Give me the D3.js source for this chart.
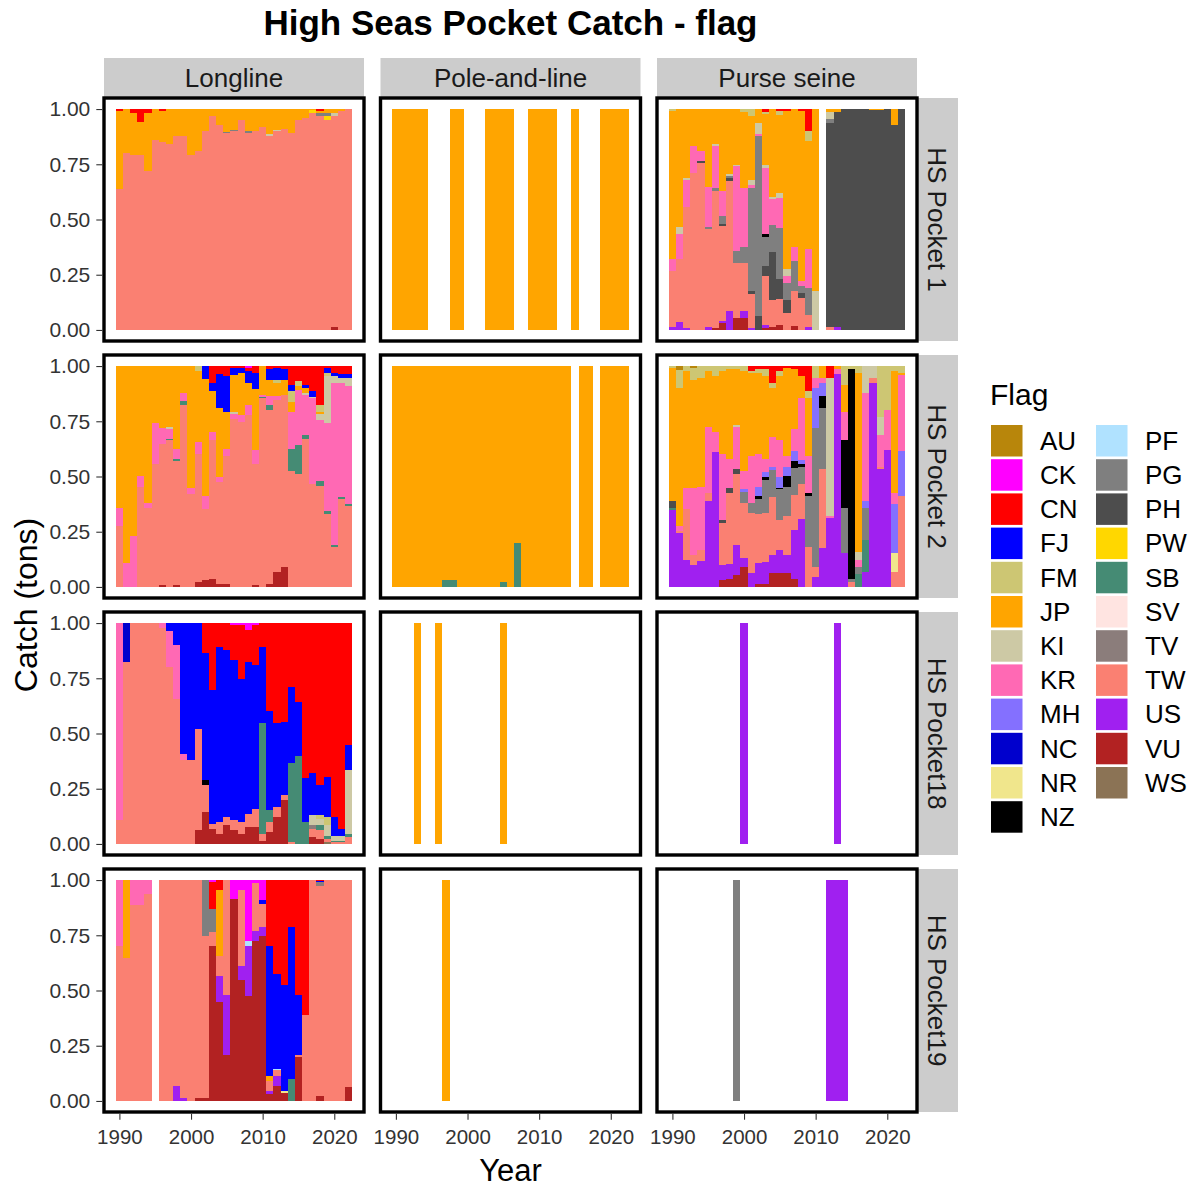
<!DOCTYPE html>
<html><head><meta charset="utf-8">
<script src="https://cdn.jsdelivr.net/npm/d3@7"></script>
<style>
body{margin:0;background:#fff;}
text{font-family:"Liberation Sans",Arial,Helvetica,sans-serif;}
</style>
</head><body>
<svg id="chart" width="1197" height="1187"></svg>
<script>
// ---------------- data ----------------
const years = [1990,1991,1992,1993,1994,1995,1996,1997,1998,1999,2000,2001,2002,2003,2004,2005,2006,2007,2008,2009,2010,2011,2012,2013,2014,2015,2016,2017,2018,2019,2020,2021,2022];
const flags = ["AU","CK","CN","FJ","FM","JP","KI","KR","MH","NC","NR","NZ","PF","PG","PH","PW","SB","SV","TV","TW","US","VU","WS"];
const flagColors = ["#B8860B","#FF00FF","#FF0000","#0000FF","#CDC673","#FFA500","#CDC9A5","#FF69B4","#8470FF","#0000CD","#F0E68C","#000000","#B0E2FF","#7F7F7F","#4D4D4D","#FFD700","#458B74","#FFE4E1","#8B7D7B","#FA8072","#A020F0","#B22222","#8B7355"];
const gears = ["Longline","Pole-and-line","Purse seine"];
const pockets = ["HS Pocket 1","HS Pocket 2","HS Pocket18","HS Pocket19"];
const yTicks = [0,0.25,0.5,0.75,1];
const xTicks = [1990,2000,2010,2020];

const longlineP1 = [
[1990,{CN:.01,JP:.35,TW:.64}],[1991,{JP:.20,TW:.80}],[1992,{CN:.02,JP:.19,TW:.79}],[1993,{CN:.06,JP:.15,TW:.79}],
[1994,{CN:.02,JP:.26,TW:.72}],[1995,{JP:.14,TW:.86}],[1996,{CN:.01,JP:.14,TW:.85}],[1997,{JP:.16,TW:.84}],
[1998,{JP:.12,TW:.88}],[1999,{JP:.12,TW:.88}],[2000,{JP:.21,TW:.79}],[2001,{JP:.19,TW:.81}],
[2002,{JP:.10,TW:.90}],[2003,{JP:.03,TW:.97}],[2004,{JP:.07,TW:.93}],[2005,{JP:.105,PG:.005,TW:.89}],
[2006,{JP:.095,PG:.005,TW:.90}],[2007,{JP:.05,TW:.95}],[2008,{JP:.10,PG:.01,TW:.89}],[2009,{JP:.10,TW:.90}],
[2010,{JP:.08,TW:.92}],[2011,{JP:.115,KI:.005,TW:.88}],[2012,{JP:.095,KI:.005,TW:.90}],[2013,{JP:.09,TW:.91}],
[2014,{JP:.11,TW:.89}],[2015,{JP:.05,TW:.95}],[2016,{JP:.04,TW:.96}],[2017,{JP:.005,PW:.015,TW:.98}],
[2018,{CN:.01,JP:.01,PG:.01,TW:.97}],[2019,{JP:.02,PG:.01,PW:.02,TW:.95}],[2020,{JP:.02,KI:.01,TW:.955,VU:.015}],
[2021,{JP:.01,TW:.99}],[2022,{TW:1}]
];

const poleP1 = [
[1990,{JP:1}],[1991,{JP:1}],[1992,{JP:1}],[1993,{JP:1}],[1994,{JP:1}],[1998,{JP:1}],[1999,{JP:1}],
[2003,{JP:1}],[2004,{JP:1}],[2005,{JP:1}],[2006,{JP:1}],[2009,{JP:1}],[2010,{JP:1}],[2011,{JP:1}],[2012,{JP:1}],
[2015,{JP:1}],[2019,{JP:1}],[2020,{JP:1}],[2021,{JP:1}],[2022,{JP:1}]
];

const purseP1 = [
[1990,{FM:.008,JP:.672,KR:.054,TW:.252,US:.015}],
[1991,{KI:.03,JP:.534,KR:.114,TW:.283,US:.038}],
[1992,{KI:.008,JP:.313,KR:.122,TW:.549,US:.008}],
[1993,{JP:.168,KR:.122,TW:.71}],
[1994,{JP:.191,KR:.046,PH:.008,TW:.755}],
[1995,{JP:.351,KR:.183,PG:.008,TW:.443,US:.015}],
[1996,{JP:.16,KI:.008,KR:.19,PG:.015,TW:.619,VU:.008}],
[1997,{JP:.374,KR:.115,PG:.038,PH:.008,TW:.435,US:.01,VU:.03}],
[1998,{KI:.008,JP:.294,PG:.01,PH:.012,TW:.592,US:.084}],
[1999,{JP:.252,KI:.008,KR:.382,PG:.053,TW:.252,VU:.053}],
[2000,{FM:.015,JP:.344,KR:.267,PG:.069,TW:.221,US:.031,VU:.053}],
[2001,{FM:.03,JP:.29,KI:.023,KR:.015,PG:.466,PH:.015,TW:.153,US:.008}],
[2002,{JP:.061,KI:.053,KR:.008,PG:.817,PH:.061}],
[2003,{CN:.015,FM:.008,JP:.229,KI:.015,KR:.298,NZ:.015,PG:.13,PH:.046,TW:.221,US:.015,VU:.008}],
[2004,{JP:.397,KI:.008,KR:.122,PG:.122,PH:.214,TW:.122,VU:.015}],
[2005,{CN:.008,FM:.02,JP:.351,KI:.023,KR:.137,PG:.229,PH:.092,TW:.115,VU:.023}],
[2006,{CN:.008,JP:.718,KI:.031,KR:.031,PG:.076,PH:.061,TW:.075}],
[2007,{JP:.626,KR:.061,PG:.137,TW:.16,VU:.016}],
[2008,{CN:.008,JP:.771,KR:.023,PG:.031,PH:.023,TW:.144}],
[2009,{CN:.099,FM:.046,JP:.489,KR:.176,PG:.122,TW:.053,US:.015}],
[2010,{JP:.824,KI:.176}],
[2012,{JP:.015,KI:.03,PG:.02,PH:.92,TW:.015}],
[2013,{JP:.015,PH:.97,US:.015}],
[2014,{PH:1}],[2015,{PH:1}],[2016,{PH:1}],[2017,{PH:1}],
[2018,{JP:.005,PH:.995}],[2019,{JP:.005,PH:.995}],[2020,{PH:1}],[2021,{JP:.07,PH:.93}],[2022,{PH:1}]
];

const longlineP2 = [
[1990,{JP:.641,KR:.084,TW:.275}],
[1991,{JP:.893,KR:.107}],
[1992,{JP:.771,KR:.229}],
[1993,{JP:.496,KR:.053,TW:.451}],
[1994,{JP:.618,KR:.023,TW:.359}],
[1995,{JP:.26,KR:.183,TW:.557}],
[1996,{JP:.282,KR:.069,TW:.641,VU:.008}],
[1997,{JP:.275,KI:.008,KR:.046,SB:.008,TW:.663}],
[1998,{JP:.374,KR:.046,SB:.012,TW:.56,VU:.008}],
[1999,{JP:.122,KR:.038,SB:.015,TW:.825}],
[2000,{JP:.55,KR:.031,TW:.419}],
[2001,{FM:.023,JP:.321,KR:.053,TW:.58,VU:.023}],
[2002,{FJ:.06,JP:.527,KR:.061,TW:.321,VU:.031}],
[2003,{CN:.076,FJ:.038,JP:.183,KR:.038,TW:.627,VU:.038}],
[2004,{CN:.038,FJ:.153,JP:.313,KR:.023,TW:.458,VU:.015}],
[2005,{CN:.046,FJ:.16,JP:.168,KR:.031,TW:.58,VU:.015}],
[2006,{CN:.008,FJ:.031,JP:.168,KI:.008,KR:.023,TW:.762}],
[2007,{CN:.008,FJ:.023,JP:.191,KR:.031,TW:.747}],
[2008,{CK:.008,CN:.015,FJ:.053,JP:.099,KR:.046,TW:.779}],
[2009,{CN:.03,FJ:.076,JP:.275,KR:.061,TW:.55,VU:.008}],
[2010,{JP:.13,KR:.008,SB:.008,TW:.854}],
[2011,{CN:.015,FJ:.046,JP:.076,KR:.038,SB:.023,TW:.787,VU:.015}],
[2012,{CN:.008,FJ:.053,FM:.015,JP:.061,KR:.015,TW:.779,VU:.069}],
[2013,{CN:.015,FJ:.046,JP:.069,TW:.778,VU:.092}],
[2014,{CN:.084,FJ:.031,FM:.046,JP:.046,KR:.168,SB:.099,TW:.526}],
[2015,{CN:.069,FM:.023,JP:.015,KR:.252,SB:.13,TW:.511}],
[2016,{CN:.084,FJ:.015,JP:.023,KI:.008,KR:.183,SB:.015,TW:.672}],
[2017,{CN:.115,FJ:.023,KI:.008,KR:.389,TW:.465}],
[2018,{CN:.176,FM:.031,JP:.008,KI:.031,KR:.275,SB:.023,TW:.456}],
[2019,{CN:.008,FJ:.023,FM:.015,KI:.214,KR:.397,SB:.015,TW:.328}],
[2020,{CN:.031,FJ:.015,KI:.031,KR:.733,SB:.008,TW:.182}],
[2021,{CN:.038,FJ:.015,KI:.023,KR:.519,SB:.008,TW:.397}],
[2022,{CN:.038,FJ:.015,KI:.038,KR:.534,SB:.008,TW:.367}]
];

const poleP2 = [
[1990,{JP:1}],[1991,{JP:1}],[1992,{JP:1}],[1993,{JP:1}],[1994,{JP:1}],[1995,{JP:1}],[1996,{JP:1}],
[1997,{JP:.97,SB:.03}],[1998,{JP:.97,SB:.03}],[1999,{JP:1}],[2000,{JP:1}],[2001,{JP:1}],[2002,{JP:1}],
[2003,{JP:1}],[2004,{JP:1}],[2005,{JP:.977,SB:.023}],[2006,{JP:1}],[2007,{JP:.802,SB:.198}],[2008,{JP:1}],
[2009,{JP:1}],[2010,{JP:1}],[2011,{JP:1}],[2012,{JP:1}],[2013,{JP:1}],[2014,{JP:1}],
[2016,{JP:1}],[2017,{JP:1}],[2019,{JP:1}],[2020,{JP:1}],[2021,{JP:1}],[2022,{JP:1}]
];

const purseP2 = [
[1990,{FM:.008,JP:.603,PH:.031,SB:.008,US:.35}],
[1991,{AU:.02,FM:.079,JP:.626,KR:.023,TW:.008,US:.244}],
[1992,{FM:.023,JP:.527,KR:.099,TW:.229,US:.122}],
[1993,{AU:.008,FM:.053,JP:.489,KR:.305,TW:.046,US:.099}],
[1994,{FM:.053,JP:.496,KR:.282,TW:.053,US:.116}],
[1995,{FM:.023,JP:.252,KR:.298,TW:.038,US:.389}],
[1996,{FM:.046,JP:.252,KR:.092,US:.61}],
[1997,{FM:.023,JP:.374,KR:.298,PH:.015,TW:.191,US:.069,VU:.03}],
[1998,{FM:.015,JP:.405,KR:.13,PH:.023,TW:.321,US:.068,VU:.038}],
[1999,{FM:.015,JP:.252,KI:.008,KR:.191,PH:.023,TW:.321,US:.137,VU:.053}],
[2000,{FM:.023,JP:.45,KR:.084,MH:.015,PG:.046,TW:.252,US:.038,VU:.092}],
[2001,{CN:.023,FM:.008,JP:.374,KR:.214,PG:.046,TW:.274,US:.061}],
[2002,{CN:.015,FM:.015,JP:.366,KR:.153,MH:.038,NZ:.015,PG:.069,TW:.221,US:.093,VU:.015}],
[2003,{CN:.015,FM:.03,JP:.374,KR:.061,MH:.023,NZ:.015,PG:.145,TW:.223,US:.099,VU:.015}],
[2004,{CN:.076,FM:.023,JP:.221,KR:.137,MH:.015,PG:.122,TW:.261,US:.084,VU:.061}],
[2005,{CN:.023,FM:.023,JP:.29,KR:.168,MH:.046,NZ:.008,PG:.137,TW:.137,US:.107,VU:.061}],
[2006,{CN:.008,JP:.397,KR:.053,MH:.038,NZ:.053,PG:.13,TW:.176,US:.084,VU:.061}],
[2007,{CN:.015,JP:.27,KR:.098,MH:.046,NZ:.031,PG:.122,TW:.16,US:.22,VU:.038}],
[2008,{CN:.046,JP:.099,KR:.282,MH:.015,NZ:.015,PG:.076,TW:.16,US:.307}],
[2009,{CN:.115,FM:.031,JP:.26,KR:.168,NZ:.015,PG:.229,TW:.182}],
[2010,{FM:.053,KR:.046,MH:.183,PG:.626,TW:.046,US:.046}],
[2011,{JP:.053,KR:.023,MH:.061,NZ:.053,PG:.275,TW:.359,US:.176}],
[2012,{CN:.053,KI:.626,KR:.008,US:.313}],
[2013,{JP:.015,KR:.023,US:.962}],
[2014,{FM:.084,JP:.122,KR:.13,NZ:.305,PG:.206,US:.153}],
[2015,{FM:.015,NZ:.947,PG:.015,TW:.023}],
[2016,{FM:.031,JP:.809,KI:.038,KR:.031,PG:.031,SB:.06}],
[2017,{KI:.122,KR:.489,MH:.031,PG:.145,SB:.145,US:.068}],
[2018,{KI:.053,TW:.023,US:.924}],
[2019,{FM:.229,KI:.084,KR:.145,TW:.008,US:.534}],
[2020,{FM:.198,KR:.183,US:.619}],
[2021,{FM:.023,JP:.55,KR:.053,MH:.221,NR:.084,TW:.069}],
[2022,{FM:.031,JP:.008,KR:.344,MH:.206,TW:.411}]
];

const longlineP18 = [
[1990,{KR:.893,TW:.107}],[1991,{NC:.176,TW:.824}],[1992,{TW:1}],[1993,{TW:1}],[1994,{TW:1}],[1995,{TW:1}],
[1996,{KR:.023,TW:.977}],[1997,{FJ:.038,KR:.16,TW:.802}],[1998,{FJ:.099,KR:.244,TW:.657}],
[1999,{FJ:.595,KR:.023,TW:.382}],[2000,{FJ:.618,TW:.382}],[2001,{FJ:.481,TW:.458,VU:.061}],
[2002,{CN:.137,FJ:.573,NZ:.023,TW:.122,VU:.145}],[2003,{CN:.305,FJ:.603,TW:.023,VU:.069}],
[2004,{CN:.107,FJ:.794,TW:.053,VU:.046}],[2005,{CN:.122,FJ:.756,TW:.038,VU:.084}],
[2006,{CK:.008,CN:.16,FJ:.725,TW:.046,VU:.061}],[2007,{CK:.008,CN:.244,FJ:.649,TW:.053,VU:.046}],
[2008,{CK:.031,CN:.145,FJ:.687,TW:.061,VU:.076}],[2009,{CK:.008,CN:.183,FJ:.649,TW:.084,VU:.076}],
[2010,{CN:.107,FJ:.344,SB:.504,TW:.03,VU:.015}],[2011,{CN:.397,FJ:.45,SB:.053,TW:.046,VU:.054}],
[2012,{CN:.451,FJ:.382,TW:.046,VU:.121}],[2013,{CN:.45,FJ:.328,TW:.023,VU:.199}],
[2014,{CN:.29,FJ:.344,SB:.358,TW:.008}],[2015,{CN:.359,FJ:.244,SB:.397}],[2016,{CN:.70,FJ:.20,SB:.10}],
[2017,{CN:.679,FJ:.191,KI:.046,TV:.015,TW:.038,VU:.031}],
[2018,{CN:.733,FJ:.137,FM:.015,KI:.031,SB:.023,TW:.038,VU:.023}],
[2019,{CN:.695,FJ:.183,FM:.038,KI:.046,SB:.015,TW:.015,WS:.008}],
[2020,{CN:.878,FJ:.084,KI:.023,SB:.008,TW:.007}],
[2021,{CN:.931,FJ:.031,KI:.023,SB:.008,TW:.007}],
[2022,{CN:.55,FJ:.115,KI:.29,SB:.015,TW:.03}]
];

const poleP18 = [[1993,{JP:1}],[1996,{JP:1}],[2005,{JP:1}]];
const purseP18 = [[2000,{US:1}],[2013,{US:1}]];

const longlineP19 = [
[1990,{KR:.298,TW:.702}],[1991,{JP:.351,TW:.649}],[1992,{KR:.115,TW:.885}],[1993,{KR:.115,TW:.885}],
[1994,{KR:.061,TW:.939}],[1996,{TW:1}],[1997,{TW:1}],[1998,{TW:.931,US:.069}],[1999,{TW:.985,US:.015}],
[2000,{TW:1}],[2001,{TW:.985,VU:.015}],[2002,{PG:.252,TW:.733,VU:.015}],
[2003,{CK:.008,CN:.122,PG:.107,TW:.061,VU:.702}],[2004,{CN:.046,JP:.298,TW:.092,US:.115,VU:.449}],
[2005,{TW:.519,US:.275,VU:.206}],[2006,{CK:.084,VU:.916}],[2007,{CK:.046,TW:.344,US:.061,VU:.549}],
[2008,{CK:.275,PF:.023,US:.229,VU:.473}],[2009,{CK:.015,TW:.214,US:.046,VU:.725}],
[2010,{CK:.092,FJ:.015,TW:.107,US:.038,VU:.748}],[2011,{CN:.298,FJ:.588,JP:.023,TW:.046,US:.015,VU:.03}],
[2012,{CN:.427,FJ:.427,PF:.008,TW:.023,US:.046,VU:.069}],[2013,{CN:.473,FJ:.481,NR:.012,VU:.034}],
[2014,{CN:.214,FJ:.687,SB:.099}],[2015,{CN:.519,FJ:.275,TW:.008,VU:.198}],[2016,{CN:.611,TW:.389}],
[2017,{TW:1}],[2018,{CN:.005,FJ:.005,TV:.015,TW:.952,VU:.023}],[2019,{TW:1}],[2020,{TW:1}],[2021,{TW:1}],
[2022,{TW:.939,VU:.061}]
];

const poleP19 = [[1997,{JP:1}]];
const purseP19 = [[1999,{PG:1}],[2012,{US:1}],[2013,{US:1}],[2014,{US:1}]];

// ---------------- layout ----------------
const svg = d3.select("#chart");
const PW = 260, PH = 243, STRIP = 40;
const colX = [104, 380.5, 657];
const rowY = [98, 355, 612, 869];
const font = '"Liberation Sans",Arial,sans-serif';

const panelDefs = [
  {row:0,col:0,data:longlineP1},{row:0,col:1,data:poleP1},{row:0,col:2,data:purseP1},
  {row:1,col:0,data:longlineP2},{row:1,col:1,data:poleP2},{row:1,col:2,data:purseP2},
  {row:2,col:0,data:longlineP18},{row:2,col:1,data:poleP18},{row:2,col:2,data:purseP18},
  {row:3,col:0,data:longlineP19},{row:3,col:1,data:poleP19},{row:3,col:2,data:purseP19}
];

const span = [years[0]-0.5, years[years.length-1]+0.5];
const pad = 0.05*(span[1]-span[0]);
const xDomain = [span[0]-pad, span[1]+pad];
const yDomain = [-0.05, 1.05];
const color = d3.scaleOrdinal().domain(flags).range(flagColors);
const stacker = d3.stack().keys(flags.slice().reverse()).offset(d3.stackOffsetExpand);

// title
svg.append("text").attr("x", (colX[0]+colX[2]+PW)/2).attr("y", 35)
  .attr("text-anchor","middle").attr("font-size","35px").attr("font-weight","bold").attr("fill","#000")
  .text("High Seas Pocket Catch - flag");

// top strips
gears.forEach((gname,c)=>{
  svg.append("rect").attr("x",colX[c]).attr("y",rowY[0]-STRIP).attr("width",PW).attr("height",STRIP).attr("fill","#CCCCCC");
  svg.append("text").attr("x",colX[c]+PW/2).attr("y",rowY[0]-STRIP/2).attr("dy","0.35em")
    .attr("text-anchor","middle").attr("font-size","26px").attr("fill","#1A1A1A").text(gname);
});
// right strips
pockets.forEach((pname,r)=>{
  const sx = colX[2]+PW;
  svg.append("rect").attr("x",sx).attr("y",rowY[r]).attr("width",STRIP+1).attr("height",PH).attr("fill","#CCCCCC");
  svg.append("text").attr("transform",`translate(${sx+STRIP/2+0.5},${rowY[r]+PH/2}) rotate(90)`).attr("dy","0.35em")
    .attr("text-anchor","middle").attr("font-size","26px").attr("fill","#1A1A1A").text(pname);
});

panelDefs.forEach(p=>{
  const x0 = colX[p.col], y0 = rowY[p.row];
  const x = d3.scaleLinear().domain(xDomain).range([x0, x0+PW]);
  const y = d3.scaleLinear().domain(yDomain).range([y0+PH, y0]);
  const table = p.data.map(([yr,v])=>{ const o={year:yr}; flags.forEach(f=>o[f]=v[f]||0); return o; });
  const series = stacker(table);
  const g = svg.append("g");
  g.append("rect").attr("x",x0).attr("y",y0).attr("width",PW).attr("height",PH).attr("fill","#fff");
  g.selectAll("g.s").data(series).join("g").attr("class","s").attr("fill",s=>color(s.key))
    .selectAll("rect").data(s=>s.filter(d=>d[1]-d[0]>1e-9)).join("rect")
    .attr("x",d=>x(d.data.year-0.5)).attr("width",d=>x(d.data.year+0.5)-x(d.data.year-0.5))
    .attr("y",d=>y(d[1])).attr("height",d=>y(d[0])-y(d[1]))
    .attr("shape-rendering","crispEdges");
  svg.append("rect").attr("x",x0).attr("y",y0).attr("width",PW).attr("height",PH)
    .attr("fill","none").attr("stroke","#000").attr("stroke-width",3.4);

  if (p.col===0){
    const ax = svg.append("g").attr("transform",`translate(${x0-1.7},0)`)
      .call(d3.axisLeft(y).tickValues(yTicks).tickFormat(d3.format(".2f")).tickSize(6).tickPadding(6));
    ax.select(".domain").remove();
    ax.selectAll(".tick line").attr("stroke","#333").attr("stroke-width",1.1);
    ax.selectAll(".tick text").attr("font-size","21px").attr("fill","#333").attr("font-family",font);
  }
  if (p.row===3){
    const ax = svg.append("g").attr("transform",`translate(0,${y0+PH+1.7})`)
      .call(d3.axisBottom(x).tickValues(xTicks).tickFormat(d3.format("d")).tickSize(6).tickPadding(10));
    ax.select(".domain").remove();
    ax.selectAll(".tick line").attr("stroke","#333").attr("stroke-width",1.1);
    ax.selectAll(".tick text").attr("font-size","20.5px").attr("fill","#333").attr("font-family",font);
  }
});

// axis titles
svg.append("text").attr("x",(colX[0]+colX[2]+PW)/2).attr("y",1181).attr("text-anchor","middle")
  .attr("font-size","31px").attr("fill","#000").text("Year");
svg.append("text").attr("transform",`translate(37,${(rowY[0]+rowY[3]+PH)/2}) rotate(-90)`).attr("text-anchor","middle")
  .attr("font-size","32px").attr("fill","#000").text("Catch (tons)");

// legend
const legend = svg.append("g");
legend.append("text").attr("x",990).attr("y",405).attr("font-size","30px").attr("fill","#000").text("Flag");
const legCols = [991, 1096], legTop = 425, legPitch = 34.2, keySize = 31.5;
flags.forEach((f,i)=>{
  const c = Math.floor(i/12), r = i%12;
  const ky = legTop + r*legPitch;
  legend.append("rect").attr("x",legCols[c]).attr("y",ky).attr("width",keySize).attr("height",keySize).attr("fill",color(f));
  legend.append("text").attr("x",legCols[c]+49).attr("y",ky+keySize/2).attr("dy","0.35em")
    .attr("font-size","26px").attr("fill","#000").text(f);
});
</script>
</body></html>
